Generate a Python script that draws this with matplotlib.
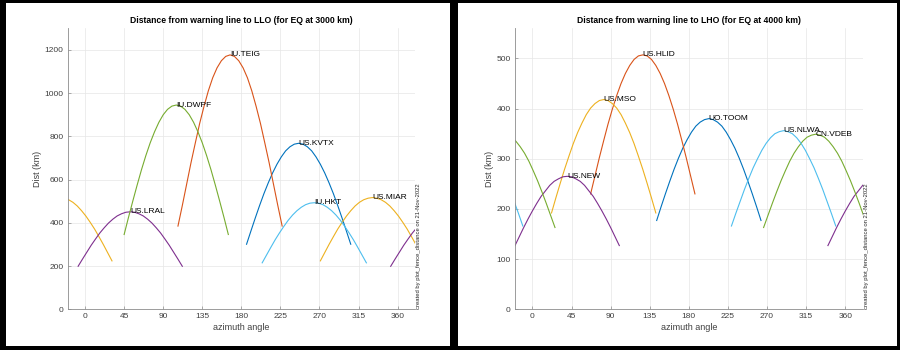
import numpy as np
import matplotlib.pyplot as plt
from matplotlib.patches import Rectangle

plt.rcParams['font.family'] = ['Liberation Sans', 'DejaVu Sans']

COLORS = ['#0072BD', '#D95319', '#EDB120', '#7E2F8E', '#77AC30', '#4DBEEE']
STAMP = 'created by plot_fence_distance on 21-Nov-2022'

# LLO, EQ at 3000 km  (azimuth samples every 5 deg)
llo_names = ['US.KVTX', 'IU.TEIG', 'US.MIAR', 'US.LRAL', 'IU.DWPF', 'IU.HKT']
llo_az = [
    list(range(186, 307, 5)),
    list(range(107, 228, 5)),
    list(range(271, 392, 5)),
    list(range(-8, 113, 5)),
    list(range(45, 166, 5)),
    list(range(204, 325, 5)),
]
llo_km = [
    [301, 362, 422, 480, 535, 585, 631, 671, 705, 733, 752, 764, 768,
     764, 752, 733, 705, 671, 631, 585, 535, 480, 422, 362, 301],
    [385, 480, 579, 678, 770, 860, 939, 1011, 1071, 1117, 1150, 1170, 1177,
     1170, 1150, 1117, 1071, 1011, 939, 860, 770, 678, 579, 480, 385],
    [224, 262, 300, 336, 371, 402, 431, 456, 478, 495, 507, 514, 517,
     514, 507, 495, 478, 456, 431, 402, 371, 336, 300, 262, 224],
    [199, 232, 264, 296, 325, 353, 377, 399, 417, 432, 442, 449, 451,
     449, 442, 432, 417, 399, 377, 353, 325, 296, 264, 232, 199],
    [346, 425, 501, 575, 646, 711, 770, 821, 865, 900, 925, 940, 945,
     940, 925, 900, 865, 821, 770, 711, 646, 575, 501, 425, 346],
    [215, 251, 287, 322, 354, 384, 412, 436, 456, 472, 484, 491, 493,
     491, 484, 472, 456, 436, 412, 384, 354, 322, 287, 251, 215],
]

# LHO, EQ at 4000 km
lho_names = ['UO.TOOM', 'US.HLID', 'US.MSO', 'US.NEW', 'CN.VDEB', 'US.NLWA']
lho_az = [
    list(range(143, 264, 5)),
    list(range(67, 188, 5)),
    list(range(22, 143, 5)),
    list(range(-20, 101, 5)),
    list(range(266, 387, 5)),
    list(range(229, 350, 5)),
]
lho_km = [
    [177, 204, 230, 255, 279, 301, 321, 338, 353, 365, 373, 378, 380,
     378, 373, 365, 353, 338, 321, 301, 279, 255, 230, 204, 177],
    [230, 266, 302, 336, 369, 399, 426, 450, 470, 486, 498, 505, 507,
     505, 498, 486, 470, 450, 426, 399, 369, 336, 302, 266, 230],
    [192, 222, 251, 279, 305, 330, 352, 371, 388, 401, 410, 416, 418,
     416, 410, 401, 388, 371, 352, 330, 305, 279, 251, 222, 192],
    [127, 145, 163, 180, 196, 211, 225, 236, 247, 255, 260, 264, 265,
     264, 260, 255, 247, 236, 225, 211, 196, 180, 163, 145, 127],
    [163, 187, 211, 234, 256, 276, 295, 311, 324, 335, 343, 347, 349,
     347, 343, 335, 324, 311, 295, 276, 256, 234, 211, 187, 163],
    [166, 191, 215, 239, 261, 282, 300, 317, 331, 342, 350, 354, 356,
     354, 350, 342, 331, 317, 300, 282, 261, 239, 215, 191, 166],
]

xticks = [0, 45, 90, 135, 180, 225, 270, 315, 360]


def panel(ax, names, azs, kms, title, ymax, ystep):
    for i, (nm, az, km) in enumerate(zip(names, azs, kms)):
        az = np.array(az)
        km = np.array(km)
        # curves wrap round 360 deg
        for off in (-360, 0, 360):
            ax.plot(az + off, km, color=COLORS[i], lw=0.8)
        k = np.argmax(km)
        ax.text(az[k], km[k], nm, ha='left', va='center', fontsize=6, color='black')
    ax.set_xlim(-20, 380)
    ax.set_ylim(0, ymax)
    ax.set_xticks(xticks)
    ax.set_yticks(np.arange(0, ymax, ystep))
    ax.grid(True, color='#e6e6e6', lw=0.5)
    ax.set_axisbelow(True)
    for s in ('top', 'right'):
        ax.spines[s].set_visible(False)
    for s in ('left', 'bottom'):
        ax.spines[s].set_color('#8c8c8c')
        ax.spines[s].set_linewidth(0.6)
    ax.tick_params(direction='in', length=2, width=0.5, color='#8c8c8c',
                   labelsize=6, labelcolor='#404040', pad=3)
    ax.set_title(title, fontsize=6.2, fontweight='bold', pad=4)
    ax.set_xlabel('azimuth angle', fontsize=6.5, color='#404040', labelpad=2)
    ax.set_ylabel('Dist (km)', fontsize=6.5, color='#404040', labelpad=2)
    ax.text(1.003, 0.0, STAMP, transform=ax.transAxes, rotation=90,
            ha='left', va='bottom', fontsize=4.2, color='#262626')


fig = plt.figure(figsize=(9, 3.5), dpi=100)
ax1 = fig.add_axes([67.7 / 900, 40.7 / 350, 347.3 / 900, 281 / 350])
ax2 = fig.add_axes([515 / 900, 40.7 / 350, 347.7 / 900, 281 / 350])

panel(ax1, llo_names, llo_az, llo_km,
      'Distance from warning line to LLO (for EQ at 3000 km)', 1300, 200)
panel(ax2, lho_names, lho_az, lho_km,
      'Distance from warning line to LHO (for EQ at 4000 km)', 560, 100)

# black frames round the two panels
for x, y, w, h in [(0, 0, 6, 350), (0, 347, 900, 3), (0, 0, 900, 4),
                   (450, 0, 8, 350), (897, 0, 3, 350)]:
    fig.add_artist(Rectangle((x / 900, y / 350), w / 900, h / 350,
                             transform=fig.transFigure, color='black', lw=0))

fig.savefig('out.png', dpi=100)
